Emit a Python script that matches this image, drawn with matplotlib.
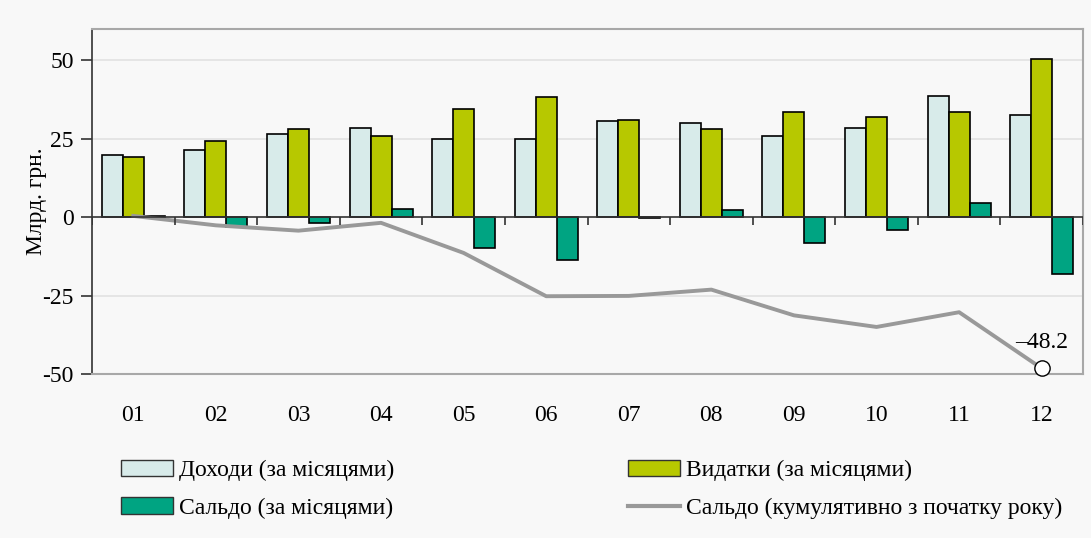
import numpy as np
import matplotlib.pyplot as plt
from matplotlib.patches import Patch
from matplotlib.lines import Line2D

plt.rcParams['font.family'] = ['Liberation Serif', 'DejaVu Serif']

months = ['01', '02', '03', '04', '05', '06', '07', '08', '09', '10', '11', '12']
income = [19.7, 21.3, 26.4, 28.3, 24.8, 24.8, 30.6, 29.9, 25.8, 28.3, 38.6, 32.5]
spending = [19.2, 24.3, 28.0, 25.8, 34.5, 38.2, 30.9, 28.0, 33.4, 31.9, 33.4, 50.4]
balance = [0.5, -3.0, -1.8, 2.5, -9.8, -13.5, -0.3, 2.4, -8.2, -4.0, 4.6, -18.0]
cumulative = [0.4, -2.6, -4.3, -1.8, -11.4, -25.2, -25.1, -23.1, -31.3, -35.0, -30.3, -48.2]
yticks = [-50, -25, 0, 25, 50]

c_inc = '#d8ebea'
c_sp = '#b7c800'
c_bal = '#00a482'
c_line = '#999999'
bg = '#f8f8f8'

fig = plt.figure(figsize=(10.91, 5.38), dpi=100, facecolor=bg)
ax = fig.add_axes([92 / 1091, 1 - 374 / 538, 991 / 1091, 345 / 538])
ax.set_facecolor(bg)

x = np.arange(len(months))
w = 0.254
ax.bar(x - w, income, w, color=c_inc, edgecolor='black', linewidth=1.2, zorder=3)
ax.bar(x, spending, w, color=c_sp, edgecolor='black', linewidth=1.2, zorder=3)
ax.bar(x + w, balance, w, color=c_bal, edgecolor='black', linewidth=1.2, zorder=3)
ax.plot(x, cumulative, color=c_line, lw=2.8, zorder=4)
ax.plot(x[-1], cumulative[-1], 'o', ms=11, mfc='white', mec='black', mew=1, zorder=5, clip_on=False)
ax.annotate('\u2013' + f'{abs(cumulative[-1]):.1f}', (x[-1], cumulative[-1]),
            xytext=(0, 15), textcoords='offset points', ha='center', va='baseline',
            fontsize=17, annotation_clip=False)

ax.set_xlim(-0.5, len(months) - 0.5)
ax.set_ylim(-50, 60)
ax.set_yticks(yticks)
ax.set_yticklabels([str(v) for v in yticks], fontsize=17)
for v in yticks:
    if v not in (0, -50):
        ax.axhline(v, color='#e2e2e2', lw=1.2, zorder=1)
ax.axhline(0, color='#333333', lw=1.2, zorder=4)
ax.vlines(np.arange(len(months) + 1) - 0.5, -2.6, 0, color='#333333', lw=1.2, zorder=4)

ax.set_xticks(x)
ax.set_xticklabels(months, fontsize=17)
ax.tick_params(axis='x', length=0, pad=22)
ax.tick_params(axis='y', length=8, width=1.2, color='#333333', pad=5)
ax.set_ylabel('Млрд. грн.', fontsize=17, va='center')
ax.yaxis.set_label_coords(-0.0565, 0.5)

for s in ['top', 'right', 'bottom']:
    ax.spines[s].set_color('#a8a8a8')
    ax.spines[s].set_linewidth(1.5)
ax.spines['left'].set_color('#333333')
ax.spines['left'].set_linewidth(1.2)

handles = [Patch(facecolor=c_inc, edgecolor='#333333'),
           Patch(facecolor=c_bal, edgecolor='#333333'),
           Patch(facecolor=c_sp, edgecolor='#333333'),
           Line2D([], [], color=c_line, lw=3)]
labels = ['Доходи (за місяцями)', 'Сальдо (за місяцями)',
          'Видатки (за місяцями)', 'Сальдо (кумулятивно з початку року)']
fig.legend(handles, labels, ncol=2, loc='upper left', bbox_to_anchor=(121 / 1091, 1 - 460 / 538),
           frameon=False, fontsize=17, handlelength=2.2, handleheight=0.68,
           handletextpad=0.25, columnspacing=9.9, labelspacing=0.68, borderpad=0, borderaxespad=0)

fig.savefig('out.png', dpi=100, facecolor=bg)
